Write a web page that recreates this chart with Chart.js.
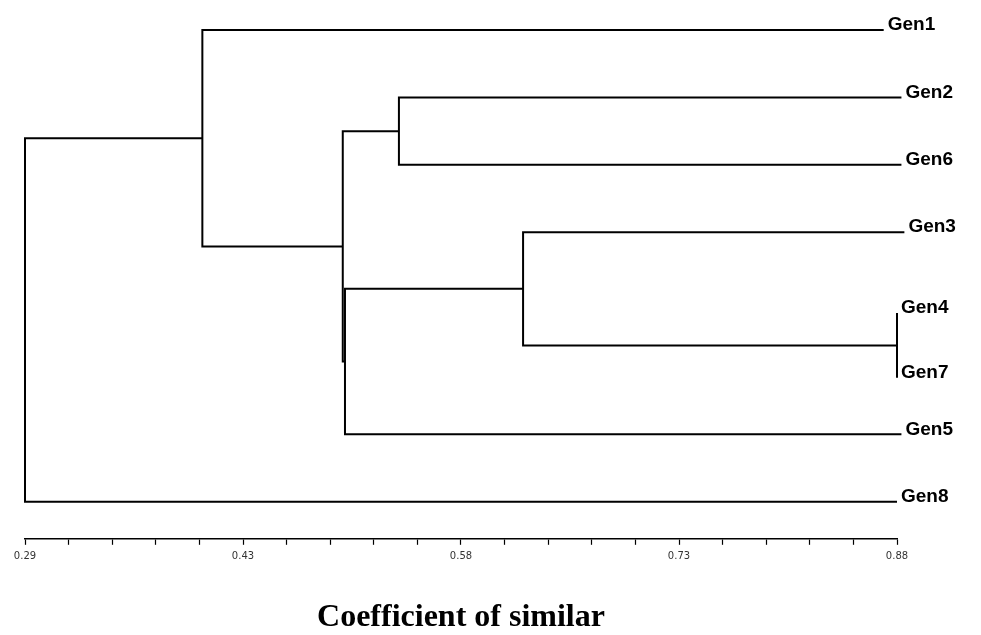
<!DOCTYPE html>
<html>
<head>
<meta charset="utf-8">
<script src="https://cdn.jsdelivr.net/npm/chart.js@4"></script>
<style>
  body { margin: 0; background: #fff; }
  #wrap { width: 981px; height: 635px; }
</style>
</head>
<body>
<div id="wrap"><canvas id="dendroChart"></canvas></div>
<script>
// leaves, top to bottom
const genes = ["Gen1", "Gen2", "Gen6", "Gen3", "Gen4", "Gen7", "Gen5", "Gen8"];
const leafRow = [0, 1, 2, 3, 4.2, 5.16, 6, 7];
const leafEnd = [0.871, 0.883, 0.883, 0.885, 0.88, 0.88, 0.883, 0.88];

// merges: node ids 0-7 are leaves, new clusters get 8, 9, ...
const mergeLeft = [4, 1, 3, 10, 9, 0, 13];
const mergeRight = [5, 2, 8, 6, 11, 12, 7];
const mergeSim = [0.88, 0.543, 0.627, 0.5065, 0.505, 0.41, 0.29];

const tickLabels = ["0.29", "0.43", "0.58", "0.73", "0.88"];
const axisMin = 0.29;
const axisMax = 0.88;

// node positions (row, similarity) for building the elbows
const nodeRow = leafRow.slice();
const nodeSim = leafEnd.slice();
const datasets = [];
for (let i = 0; i < mergeSim.length; i++) {
  const a = mergeLeft[i], b = mergeRight[i], h = mergeSim[i];
  datasets.push({
    data: [
      { x: nodeSim[a], y: nodeRow[a] },
      { x: h, y: nodeRow[a] },
      { x: h, y: nodeRow[b] },
      { x: nodeSim[b], y: nodeRow[b] },
    ],
    showLine: true,
    borderColor: "#000",
    borderWidth: 2,
    pointRadius: 0,
    clip: false,
  });
  nodeRow.push((nodeRow[a] + nodeRow[b]) / 2);
  nodeSim.push(h);
}

const leafLabels = {
  id: "leafLabels",
  afterDatasetsDraw(chart) {
    const { ctx, scales } = chart;
    ctx.save();
    ctx.font = "bold 19px 'Liberation Sans', Arial, sans-serif";
    ctx.fillStyle = "#000";
    ctx.textBaseline = "middle";
    genes.forEach((g, i) => {
      const x = scales.x.getPixelForValue(leafEnd[i]) + 4;
      const y = scales.y.getPixelForValue(leafRow[i]) - 5;
      ctx.fillText(g, x, y);
    });
    ctx.restore();
  },
};

const step = (axisMax - axisMin) / 20;

new Chart(document.getElementById("dendroChart"), {
  type: "scatter",
  data: { datasets: datasets },
  options: {
    responsive: true,
    maintainAspectRatio: false,
    animation: false,
    layout: { padding: { top: 20, left: 25, right: 84, bottom: 0 } },
    plugins: { legend: { display: false }, tooltip: { enabled: false } },
    scales: {
      x: {
        type: "linear",
        min: axisMin,
        max: axisMax,
        afterBuildTicks(scale) {
          const t = [];
          for (let k = 0; k <= 20; k++) t.push({ value: axisMin + k * step });
          scale.ticks = t;
        },
        border: { display: true, color: "#000", width: 1.5 },
        grid: { drawOnChartArea: false, color: "#000", tickLength: 6, tickWidth: 1.2 },
        ticks: {
          autoSkip: false,
          maxRotation: 0,
          padding: 6,
          color: "#333",
          font: { family: "'DejaVu Sans', sans-serif", size: 10 },
          callback: (v, i) => (i % 5 === 0 ? tickLabels[i / 5] : ""),
        },
        title: {
          display: true,
          text: "Coefficient of similar",
          color: "#000",
          font: { family: "'Liberation Serif', 'Times New Roman', serif", size: 32, weight: "bold", lineHeight: 1.1 },
          padding: { top: 31, bottom: 0 },
        },
      },
      y: {
        type: "linear",
        reverse: true,
        min: -0.15,
        max: 7.55,
        display: false,
      },
    },
  },
  plugins: [leafLabels],
});
</script>
</body>
</html>
